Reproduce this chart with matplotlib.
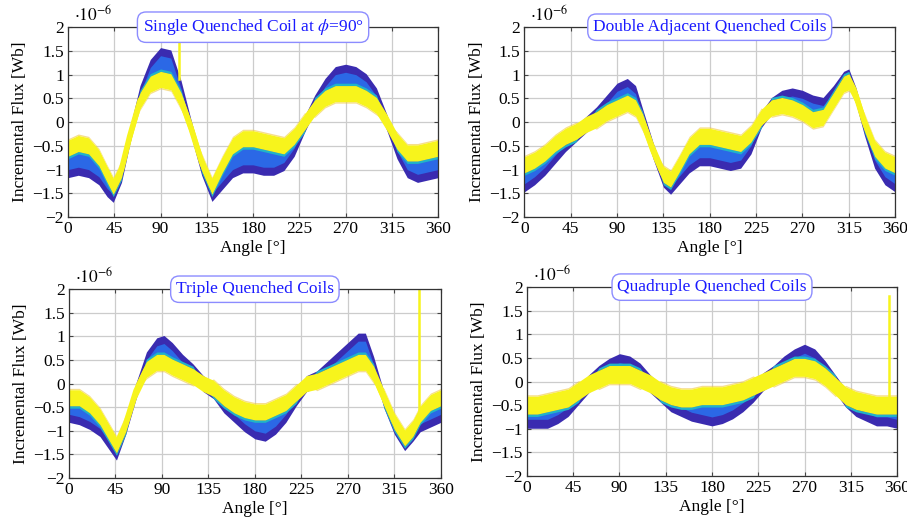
import numpy as np
import matplotlib
matplotlib.use("Agg")
import matplotlib.pyplot as plt

# ─────────────────────────────────────────────────────────────
# DATA (values in units of 1e-6 Wb)
# outer = first (dark blue) run, inner = last (yellow) run
# ─────────────────────────────────────────────────────────────
titles = ["Single Quenched Coil at $\\phi$=90°",
          "Double Adjacent Quenched Coils",
          "Triple Quenched Coils",
          "Quadruple Quenched Coils"]

single_angle = [0, 10, 20, 30, 38, 44, 52, 60, 70, 80, 90, 100, 110, 120, 130, 140, 150,
                160, 170, 180, 190, 200, 210, 220, 230, 240, 250, 260, 270, 280, 290,
                300, 310, 320, 330, 340, 350, 360]
single_inner = [-0.55, -0.45, -0.5, -0.75, -1.1, -1.35, -1.0, -0.3, 0.45, 0.8, 0.9, 0.85,
                0.45, -0.15, -0.85, -1.35, -0.9, -0.5, -0.35, -0.35, -0.4, -0.45, -0.5,
                -0.3, 0.0, 0.3, 0.5, 0.6, 0.6, 0.6, 0.5, 0.35, 0.0, -0.4, -0.65, -0.65,
                -0.6, -0.55]
single_outer = [-1.0, -0.95, -1.0, -1.15, -1.4, -1.52, -1.1, -0.3, 0.6, 1.15, 1.4, 1.35,
                0.7, -0.15, -0.95, -1.5, -1.25, -1.0, -0.9, -0.9, -0.95, -0.95, -0.85,
                -0.55, -0.05, 0.4, 0.75, 1.0, 1.05, 1.0, 0.85, 0.55, 0.0, -0.6, -1.0, -1.1,
                -1.05, -1.0]

double_angle = [0, 10, 20, 30, 40, 50, 60, 70, 80, 90, 100, 108, 115, 125, 135, 142, 150,
                160, 170, 180, 190, 200, 210, 220, 230, 240, 250, 260, 270, 280, 290,
                300, 310, 315, 322, 330, 340, 350, 360]
double_inner = [-0.9, -0.8, -0.65, -0.45, -0.3, -0.2, -0.05, 0.05, 0.2, 0.3, 0.4, 0.3, 0.0,
                -0.6, -1.1, -1.2, -0.9, -0.5, -0.3, -0.3, -0.35, -0.4, -0.45, -0.25, 0.1,
                0.3, 0.35, 0.3, 0.2, 0.05, 0.1, 0.45, 0.8, 0.85, 0.55, 0.0, -0.55, -0.8,
                -0.9]
double_outer = [-1.3, -1.15, -0.95, -0.7, -0.45, -0.25, -0.05, 0.15, 0.4, 0.65, 0.75, 0.6,
                0.1, -0.6, -1.2, -1.35, -1.15, -0.9, -0.75, -0.75, -0.8, -0.85, -0.8, -0.5,
                0.05, 0.35, 0.5, 0.55, 0.5, 0.4, 0.35, 0.6, 0.9, 0.95, 0.55, -0.1, -0.8,
                -1.15, -1.3]

triple_angle = [0, 10, 20, 30, 38, 46, 55, 65, 75, 85, 92, 100, 110, 120, 130, 140, 150,
                160, 170, 180, 190, 200, 210, 220, 230, 240, 250, 260, 270, 280, 287,
                295, 305, 315, 325, 333, 340, 350, 360]
triple_inner = [-0.3, -0.3, -0.45, -0.7, -1.0, -1.3, -0.85, -0.15, 0.3, 0.45, 0.45, 0.35,
                0.25, 0.15, 0.0, -0.1, -0.3, -0.45, -0.55, -0.6, -0.6, -0.5, -0.4, -0.2,
                0.0, 0.05, 0.15, 0.25, 0.35, 0.45, 0.45, 0.2, -0.3, -0.8, -1.15, -0.95,
                -0.65, -0.4, -0.3]
triple_outer = [-0.65, -0.7, -0.8, -0.95, -1.2, -1.45, -0.9, -0.15, 0.5, 0.8, 0.85, 0.7,
                0.45, 0.25, 0.0, -0.15, -0.45, -0.65, -0.85, -1.0, -1.05, -0.9, -0.65,
                -0.3, 0.0, 0.1, 0.3, 0.5, 0.7, 0.9, 0.9, 0.4, -0.35, -0.9, -1.25, -1.05,
                -0.85, -0.75, -0.65]

quad_angle = [0, 10, 20, 30, 40, 50, 60, 70, 80, 90, 100, 110, 120, 130, 140, 150, 160,
              170, 180, 190, 200, 210, 220, 230, 240, 250, 260, 270, 280, 290, 300, 310,
              320, 330, 340, 350, 360]
quad_inner = [-0.5, -0.5, -0.45, -0.4, -0.35, -0.2, -0.05, 0.05, 0.15, 0.15, 0.15, 0.05,
              -0.05, -0.2, -0.3, -0.35, -0.35, -0.3, -0.3, -0.3, -0.25, -0.2, -0.1, 0.0,
              0.1, 0.2, 0.3, 0.3, 0.25, 0.1, -0.1, -0.3, -0.4, -0.45, -0.5, -0.5, -0.5]
quad_outer = [-0.8, -0.8, -0.8, -0.7, -0.55, -0.3, -0.05, 0.15, 0.3, 0.4, 0.35, 0.2,
              -0.05, -0.25, -0.45, -0.55, -0.65, -0.7, -0.75, -0.7, -0.6, -0.45, -0.25,
              0.0, 0.15, 0.35, 0.5, 0.6, 0.5, 0.25, -0.05, -0.35, -0.55, -0.65, -0.75,
              -0.75, -0.8]

panel_angles = [single_angle, double_angle, triple_angle, quad_angle]
outers = [single_outer, double_outer, triple_outer, quad_outer]
inners = [single_inner, double_inner, triple_inner, quad_inner]

# noise half-width of each run band
noise_hw = [0.17, 0.17, 0.17, 0.19]

# single outlier spikes: (angle, bottom, top) or None
spikes = [(108, 0.9, 2.0), None, (339, -0.62, 2.0), (352, -0.3, 1.82)]

x_ticks = [0, 45, 90, 135, 180, 225, 270, 315, 360]
y_ticks = [-2, -1.5, -1, -0.5, 0, 0.5, 1, 1.5, 2]

# axes rectangles (figure fraction)
rects = [[0.075, 0.585, 0.408, 0.363],
         [0.578, 0.585, 0.409, 0.363],
         [0.076, 0.086, 0.410, 0.361],
         [0.581, 0.090, 0.408, 0.361]]

DARK = "#3a2bb0"
BLUE = "#2b68e6"
TEAL = "#20b4c8"
YELLOW = "#f7f41c"
ORANGE = "#f0c840"

plt.rcParams["font.family"] = ["Liberation Serif", "DejaVu Serif"]
plt.rcParams["mathtext.fontset"] = "stix"
plt.rcParams["font.size"] = 12.5

fig = plt.figure(figsize=(9.07, 5.23), dpi=100)

for i in range(4):
    ax = fig.add_axes(rects[i])
    x = np.array(panel_angles[i], dtype=float)
    outer = np.array(outers[i])
    inner = np.array(inners[i])
    hw = noise_hw[i]
    side = np.sign(outer - inner)

    ax.fill_between(x, outer - hw, outer + hw, color=DARK, lw=0, zorder=2)
    ax.fill_between(x, np.minimum(inner, outer), np.maximum(inner, outer),
                    color=BLUE, lw=0, zorder=3)
    ax.fill_between(x, inner + side * hw, inner + side * (hw + 0.05),
                    color=TEAL, lw=0, zorder=4)
    ax.fill_between(x, inner - side * hw, inner - side * (hw + 0.03),
                    color=ORANGE, lw=0, alpha=0.6, zorder=4)
    ax.fill_between(x, inner - hw, inner + hw, color=YELLOW, lw=0, zorder=5)
    ax.plot(x, inner, color=YELLOW, lw=4, zorder=5, solid_joinstyle="round")

    if spikes[i] is not None:
        sa, sb, st = spikes[i]
        ax.plot([sa, sa], [sb, st], color=YELLOW, lw=1.8, zorder=5)

    ax.set_xlim(0, 360)
    ax.set_ylim(-2, 2)
    ax.set_xticks(x_ticks)
    ax.set_yticks(y_ticks)
    ax.set_yticklabels([f"{v:g}".replace("-", "\u2212") for v in y_ticks])
    ax.grid(True, color="#cccccc", lw=0.9, zorder=0)
    ax.set_axisbelow(True)
    ax.tick_params(direction="in", length=3, color="#444444", top=True, right=True, pad=3)
    for sp in ax.spines.values():
        sp.set_color("#333333")
        sp.set_linewidth(0.9)
        sp.set_zorder(6)
    ax.set_xlabel("Angle [°]", labelpad=2)
    ax.set_ylabel("Incremental Flux [Wb]", labelpad=3)
    ax.text(0.015, 1.015, r"$\cdot 10^{-6}$", transform=ax.transAxes,
            ha="left", va="bottom", fontsize=12.5)
    ax.text(0.5, 1.0, titles[i], transform=ax.transAxes, ha="center", va="center",
            color="#1a1aff", fontsize=12.5, zorder=10,
            bbox=dict(boxstyle="round,pad=0.3,rounding_size=0.5", fc="white",
                      ec="#8c8cff", lw=1.0))

fig.savefig("out.png", dpi=100)
